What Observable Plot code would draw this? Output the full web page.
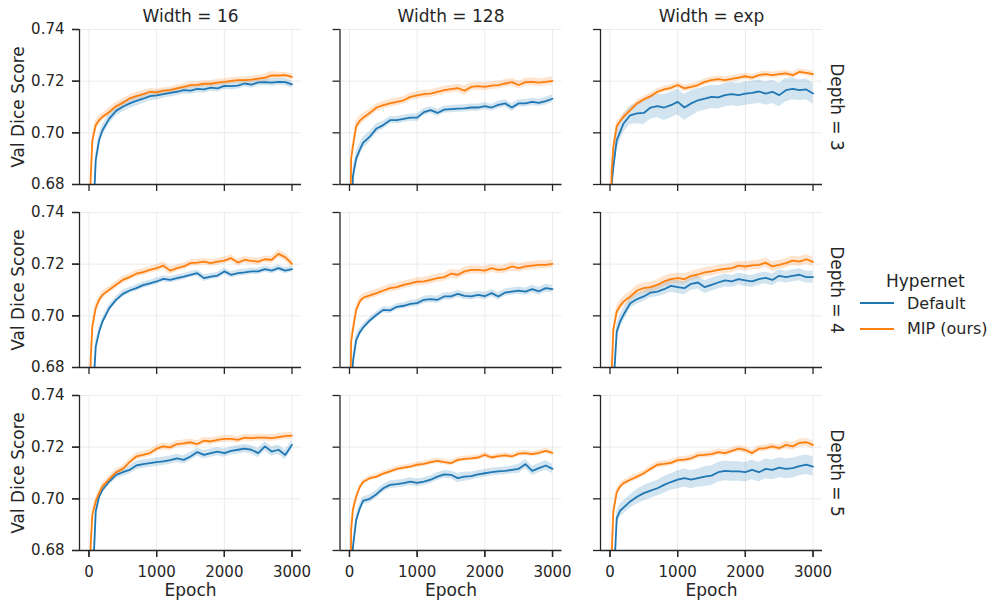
<!DOCTYPE html>
<html><head><meta charset="utf-8">
<script src="https://cdn.jsdelivr.net/npm/d3@7"></script>
<script src="https://cdn.jsdelivr.net/npm/@observablehq/plot@0.6"></script>
<style>
body{margin:0;background:#fff;font-family:"DejaVu Sans",sans-serif;}
#wrap{position:relative;width:992px;height:600px;overflow:hidden;}
.lg{position:absolute;color:#262626;white-space:nowrap;font-family:"DejaVu Sans",sans-serif;}
</style></head><body>
<div id="wrap"><div id="chart"></div>
<div class="lg" style="left:886px;top:270px;font-size:17px;line-height:22px;">Hypernet</div>
<div class="lg" style="left:860px;top:302px;width:34px;height:2px;background:#1f77b4;"></div>
<div class="lg" style="left:907px;top:293px;font-size:16px;line-height:22px;">Default</div>
<div class="lg" style="left:860px;top:328px;width:34px;height:2px;background:#ff7f0e;"></div>
<div class="lg" style="left:907px;top:318px;font-size:16px;line-height:22px;">MIP (ours)</div>
</div>
<script>
// ---- data ----
const epochs = [0,25,50,100,150,200,
  300,400,500,600,700,800,900,1000,
  1100,1200,1300,1400,1500,1600,1700,1800,1900,2000,
  2100,2200,2300,2400,2500,2600,2700,2800,2900,3000];
const widths = ["16","128","exp"];
const depths = [3,4,5];
const hypernets = ["Default","MIP (ours)"];
const colors = ["#1f77b4","#ff7f0e"];
const xTicks = [0,1000,2000,3000];
const yTicks = [0.68,0.70,0.72,0.74];

// Width 16, Depth 3
const mip16d3 = [0.620,0.682,0.697,0.7030,0.7049,0.7062,
  0.7081,0.7103,0.7116,0.7133,0.7142,0.7150,0.7159,0.7157,
  0.7163,0.7165,0.7172,0.7178,0.7185,0.7186,0.7190,0.7190,0.7194,0.7197,
  0.7201,0.7204,0.7204,0.7206,0.7210,0.7214,0.7222,0.7222,0.7223,0.7217];
const def16d3 = [0.600,0.630,0.660,0.6894,0.6972,0.7010,
  0.7055,0.7085,0.7101,0.7114,0.7124,0.7132,0.7142,0.7145,
  0.7150,0.7155,0.7159,0.7165,0.7163,0.7170,0.7168,0.7175,0.7172,0.7182,
  0.7181,0.7183,0.7191,0.7187,0.7195,0.7196,0.7194,0.7197,0.7196,0.7188];
const mipCi16d3 = [3,3,2.5,2,1.8,1.5, 1.5,1.5,1.5,1.3,1.5,1.5,1.3,1.3, 1.2,1.2,1.3,1.2,1.2,1.2,1.2,1.2,1.3,1.2, 1.2,1.2,1.2,1.3,1.2,1.5,1.5,1.3,1.2,1.2];
const defCi16d3 = [3,3,3,2.5,2.2,2, 2,2,2,2,2,1.8,1.8,1.8, 1.6,1.6,1.5,1.5,1.5,1.5,1.5,1.4,1.5,1.4, 1.5,1.4,1.4,1.4,1.4,1.4,1.4,1.4,1.4,1.4];

// Width 128, Depth 3
const mip128d3 = [0.640,0.690,0.6946,0.7026,0.7046,0.7058,
  0.7077,0.7098,0.7107,0.7114,0.7120,0.7126,0.7139,0.7145,
  0.7150,0.7152,0.7159,0.7165,0.7169,0.7173,0.7163,0.7178,0.7181,0.7178,
  0.7183,0.7185,0.7191,0.7196,0.7185,0.7196,0.7197,0.7194,0.7197,0.7201];
const def128d3 = [0.620,0.655,0.683,0.6901,0.6933,0.6961,
  0.6985,0.7017,0.7030,0.7049,0.7049,0.7054,0.7059,0.7059,
  0.7080,0.7088,0.7077,0.7090,0.7092,0.7094,0.7095,0.7098,0.7098,0.7103,
  0.7098,0.7108,0.7114,0.7098,0.7114,0.7114,0.7120,0.7116,0.7123,0.7132];
const mipCi128d3 = [3,3,2.5,2,2,1.8, 1.5,1.5,1.5,1.5,1.5,1.5,1.5,1.5, 1.5,1.5,1.5,1.5,1.5,1.5,1.8,1.5,1.5,1.5, 1.5,1.5,1.5,1.5,1.5,1.5,1.5,1.5,1.5,1.5];
const defCi128d3 = [3,3,3,2.5,2.5,2.2, 2,1.8,1.5,1.4,1.4,1.4,1.4,1.5, 1.4,1.3,1.4,1.3,1.4,1.4,1.4,1.4,1.4,1.4, 1.3,1.4,1.4,1.5,1.4,1.4,1.4,1.4,1.5,1.5];

// Width exp, Depth 3
const mipExpd3 = [0.660,0.685,0.6946,0.7026,0.7046,0.7062,
  0.7088,0.7114,0.7130,0.7142,0.7159,0.7168,0.7174,0.7185,
  0.7172,0.7178,0.7185,0.7197,0.7204,0.7208,0.7204,0.7209,0.7214,0.7219,
  0.7214,0.7223,0.7227,0.7223,0.7227,0.7230,0.7223,0.7236,0.7232,0.7227];
const defExpd3 = [0.620,0.680,0.6868,0.6972,0.7004,0.7036,
  0.7068,0.7075,0.7077,0.7098,0.7103,0.7098,0.7107,0.7120,
  0.7098,0.7114,0.7126,0.7132,0.7139,0.7137,0.7146,0.7150,0.7146,0.7152,
  0.7155,0.7160,0.7152,0.7159,0.7146,0.7165,0.7170,0.7165,0.7168,0.7152];
const mipCiExpd3 = [3,3,2,1.5,1.3,1.3, 1.2,1.2,1.2,1.2,1.2,1.2,1.2,1.2, 1.2,1.2,1.2,1.2,1.2,1.2,1.2,1.2,1.2,1.2, 1.2,1.2,1.2,1.2,1.2,1.2,1.2,1.2,1.2,1.2];
const defCiExpd3 = [4,4,4,3.5,3.5,3.5, 3.5,4,4.5,4.5,4.5,5,5,5, 5,5,4.5,4.5,4.5,4.5,4.5,4.5,4.5,4.5, 4.5,4.5,4.5,4.5,4.5,4.5,4.2,4,4,4];

// Width 16, Depth 4
const mip16d4 = [0.620,0.683,0.6959,0.7030,0.7062,0.7081,
  0.7101,0.7120,0.7139,0.7150,0.7163,0.7169,0.7178,0.7185,
  0.7194,0.7175,0.7185,0.7191,0.7204,0.7206,0.7210,0.7204,0.7210,0.7214,
  0.7223,0.7206,0.7217,0.7213,0.7210,0.7219,0.7217,0.7240,0.7227,0.7201];
const def16d4 = [0.600,0.630,0.665,0.6881,0.6939,0.6978,
  0.7030,0.7062,0.7085,0.7098,0.7107,0.7119,0.7126,0.7133,
  0.7143,0.7139,0.7146,0.7152,0.7159,0.7165,0.7146,0.7152,0.7156,0.7172,
  0.7159,0.7165,0.7168,0.7172,0.7172,0.7181,0.7175,0.7185,0.7175,0.7181];
const mipCi16d4 = [3,3,2.5,2,1.5,1.5, 1.3,1.3,1.3,1.3,1.3,1.3,1.3,1.3, 1.5,1.5,1.3,1.3,1.3,1.3,1.3,1.3,1.3,1.3, 1.3,1.3,1.3,1.3,1.3,1.3,1.3,1.5,1.5,1.5];
const defCi16d4 = [3,3,3,2,1.8,1.5, 1.3,1.3,1.3,1.2,1.2,1.2,1.2,1.2, 1.2,1.2,1.2,1.2,1.2,1.2,1.3,1.2,1.2,1.2, 1.2,1.2,1.2,1.2,1.2,1.2,1.2,1.2,1.2,1.2];

// Width 128, Depth 4
const mip128d4 = [0.640,0.690,0.6946,0.7023,0.7055,0.7070,
  0.7079,0.7088,0.7098,0.7107,0.7111,0.7120,0.7126,0.7132,
  0.7133,0.7139,0.7146,0.7150,0.7163,0.7159,0.7172,0.7178,0.7178,0.7175,
  0.7185,0.7178,0.7181,0.7191,0.7185,0.7191,0.7194,0.7197,0.7197,0.7201];
const def128d4 = [0.620,0.655,0.682,0.6907,0.6935,0.6954,
  0.6982,0.7004,0.7023,0.7021,0.7035,0.7039,0.7046,0.7049,
  0.7062,0.7065,0.7062,0.7075,0.7075,0.7085,0.7077,0.7075,0.7081,0.7076,
  0.7088,0.7075,0.7090,0.7094,0.7098,0.7094,0.7103,0.7095,0.7107,0.7103];
const mipCi128d4 = [3,3,2.5,2,1.8,1.5, 1.5,1.5,1.5,1.5,1.5,1.5,1.5,1.5, 1.5,1.6,1.6,1.6,1.8,1.6,1.6,1.6,1.6,1.6, 1.6,1.6,1.6,1.8,1.6,1.6,1.6,1.6,1.6,1.6];
const defCi128d4 = [3,3,3,2,1.5,1.3, 1.2,1.2,1.2,1.2,1.2,1.2,1.3,1.3, 1.4,1.4,1.4,1.4,1.4,1.4,1.4,1.4,1.4,1.4, 1.4,1.4,1.4,1.4,1.4,1.4,1.5,1.5,1.5,1.5];

// Width exp, Depth 4
const mipExpd4 = [0.620,0.678,0.6946,0.7017,0.7039,0.7055,
  0.7075,0.7098,0.7107,0.7111,0.7120,0.7133,0.7142,0.7146,
  0.7142,0.7155,0.7160,0.7168,0.7172,0.7178,0.7182,0.7185,0.7194,0.7191,
  0.7195,0.7197,0.7206,0.7191,0.7197,0.7204,0.7214,0.7210,0.7219,0.7209];
const defExpd4 = [0.610,0.640,0.672,0.6939,0.6978,0.7004,
  0.7049,0.7065,0.7075,0.7090,0.7094,0.7103,0.7116,0.7111,
  0.7107,0.7124,0.7129,0.7111,0.7120,0.7129,0.7137,0.7133,0.7142,0.7137,
  0.7133,0.7142,0.7147,0.7139,0.7155,0.7150,0.7155,0.7159,0.7150,0.7150];
const mipCiExpd4 = [3,3,2.5,2,2,2, 2,2,2,2,2,2,2,2, 2,1.8,1.8,1.8,1.8,1.8,1.8,1.8,1.8,1.8, 1.8,1.8,1.8,1.8,1.8,1.8,1.8,1.8,1.8,1.8];
const defCiExpd4 = [3.5,3.5,3.5,3,2.5,2.5, 2,2,2,2,2,2.2,2.5,2.5, 2.5,2.5,2.5,2.5,2.5,2.5,2.5,2.3,2.3,2.3, 2.3,2.3,2.3,2.3,2.3,2.3,2.3,2.3,2.3,2.3];

// Width 16, Depth 5
const mip16d5 = [0.620,0.682,0.6938,0.6990,0.7022,0.7048,
  0.7076,0.7102,0.7116,0.7142,0.7164,0.7170,0.7177,0.7194,
  0.7203,0.7199,0.7212,0.7215,0.7219,0.7212,0.7225,0.7222,0.7228,0.7232,
  0.7232,0.7228,0.7237,0.7235,0.7237,0.7237,0.7235,0.7239,0.7243,0.7245];
const def16d5 = [0.600,0.630,0.665,0.6951,0.7009,0.7035,
  0.7067,0.7093,0.7103,0.7112,0.7129,0.7134,0.7138,0.7142,
  0.7145,0.7150,0.7157,0.7151,0.7164,0.7181,0.7170,0.7177,0.7183,0.7177,
  0.7186,0.7190,0.7194,0.7190,0.7177,0.7203,0.7183,0.7190,0.7170,0.7209];
const mipCi16d5 = [3,3,2,1.5,1.3,1.3, 1.3,1.3,1.3,1.3,1.3,1.3,1.3,1.3, 1.3,1.3,1.3,1.3,1.3,1.3,1.3,1.3,1.3,1.3, 1.3,1.3,1.3,1.3,1.3,1.3,1.3,1.3,1.3,1.3];
const defCi16d5 = [3,3,3,2,1.5,1.3, 1.3,1.5,1.6,1.6,1.6,1.6,1.6,1.6, 1.6,1.6,1.6,1.6,1.6,1.6,1.6,1.6,1.6,1.6, 1.6,1.6,1.6,1.6,1.8,1.8,1.8,1.8,1.8,1.8];

// Width 128, Depth 5
const mip128d5 = [0.630,0.688,0.6957,0.7009,0.7044,0.7065,
  0.7080,0.7086,0.7098,0.7106,0.7116,0.7121,0.7125,0.7132,
  0.7135,0.7142,0.7147,0.7142,0.7138,0.7151,0.7155,0.7157,0.7160,0.7170,
  0.7160,0.7165,0.7168,0.7164,0.7175,0.7177,0.7173,0.7178,0.7186,0.7178];
const def128d5 = [0.620,0.655,0.681,0.6919,0.6961,0.6992,
  0.7000,0.7018,0.7041,0.7054,0.7057,0.7061,0.7067,0.7062,
  0.7067,0.7074,0.7086,0.7095,0.7093,0.7080,0.7086,0.7088,0.7095,0.7099,
  0.7103,0.7106,0.7108,0.7112,0.7116,0.7134,0.7108,0.7119,0.7129,0.7116];
const mipCi128d5 = [3,3,2,1.3,1,1, 1,1,1,1,1,1,1,1, 1,1,1,1,1,1,1,1,1,1, 1,1,1,1,1,1,1,1,1,1];
const defCi128d5 = [3,3,3,2,1.8,1.5, 1.5,1.5,1.5,1.5,1.5,1.5,1.5,1.5, 1.5,1.5,1.5,1.5,1.5,1.8,1.8,1.5,1.5,1.5, 1.5,1.5,1.5,1.5,1.8,1.8,1.8,1.8,1.8,1.8];

// Width exp, Depth 5
const mipExpd5 = [0.620,0.678,0.6951,0.7026,0.7048,0.7061,
  0.7074,0.7086,0.7099,0.7116,0.7132,0.7135,0.7139,0.7150,
  0.7152,0.7157,0.7168,0.7170,0.7173,0.7181,0.7177,0.7186,0.7194,0.7189,
  0.7177,0.7194,0.7196,0.7203,0.7196,0.7209,0.7203,0.7217,0.7219,0.7209];
const defExpd5 = [0.600,0.630,0.665,0.6925,0.6954,0.6966,
  0.6990,0.7008,0.7022,0.7032,0.7041,0.7054,0.7065,0.7074,
  0.7080,0.7074,0.7080,0.7086,0.7090,0.7103,0.7108,0.7106,0.7106,0.7103,
  0.7112,0.7103,0.7116,0.7112,0.7121,0.7116,0.7119,0.7127,0.7132,0.7125];
const mipCiExpd5 = [3,3,2,1.3,1.2,1.2, 1.2,1.2,1.2,1.2,1.2,1.2,1.2,1.2, 1.2,1.2,1.2,1.2,1.2,1.2,1.2,1.2,1.2,1.2, 1.2,1.2,1.2,1.2,1.2,1.5,1.5,1.5,1.5,1.5];
const defCiExpd5 = [3,3,3,2.5,2.5,2.5, 2.5,2.8,3,3,3,3.2,3.2,3.5, 3.5,3.5,3.5,3.8,3.8,3.8,3.8,3.8,3.8,3.8, 3.8,3.8,3.8,3.8,3.8,3.8,3.8,3.8,3.8,3.8];

// ---- assemble ----
const panels = [
  ["16",3,def16d3,defCi16d3,mip16d3,mipCi16d3],
  ["128",3,def128d3,defCi128d3,mip128d3,mipCi128d3],
  ["exp",3,defExpd3,defCiExpd3,mipExpd3,mipCiExpd3],
  ["16",4,def16d4,defCi16d4,mip16d4,mipCi16d4],
  ["128",4,def128d4,defCi128d4,mip128d4,mipCi128d4],
  ["exp",4,defExpd4,defCiExpd4,mipExpd4,mipCiExpd4],
  ["16",5,def16d5,defCi16d5,mip16d5,mipCi16d5],
  ["128",5,def128d5,defCi128d5,mip128d5,mipCi128d5],
  ["exp",5,defExpd5,defCiExpd5,mipExpd5,mipCiExpd5]
];
const rows = [];
for (const [w, d, dm, dc, mm, mc] of panels) {
  for (const [h, mean, ci] of [[hypernets[0], dm, dc], [hypernets[1], mm, mc]]) {
    epochs.forEach((e, i) => rows.push({width: w, depth: d, hyper: h, epoch: e,
      y: mean[i], lo: mean[i] - ci[i] / 1000, hi: mean[i] + ci[i] / 1000}));
  }
}

const ink = "#262626";
const chart = Plot.plot({
  width: 992, height: 600,
  marginLeft: 79, marginRight: 170, marginTop: 29, marginBottom: 50,
  style: {fontFamily: "DejaVu Sans, sans-serif", fontSize: "15px", color: ink, background: "white"},
  fx: {domain: widths, paddingInner: 0.1478, paddingOuter: 0, axis: null, round: false},
  fy: {domain: depths, paddingInner: 0.153, paddingOuter: 0, axis: null, round: false},
  x: {domain: [-140, 3140], axis: null},
  y: {domain: [0.68, 0.74], axis: null},
  color: {domain: hypernets, range: colors},
  marks: [
    Plot.gridX({ticks: xTicks, stroke: "#ebebeb", strokeOpacity: 1, strokeWidth: 1, facetAnchor: null}),
    Plot.gridY({ticks: yTicks, stroke: "#ebebeb", strokeOpacity: 1, strokeWidth: 1, facetAnchor: null}),
    Plot.areaY(rows, {x: "epoch", y1: "lo", y2: "hi", fill: "hyper", z: "hyper", fillOpacity: 0.2, fx: "width", fy: "depth", clip: true}),
    Plot.lineY(rows, {x: "epoch", y: "y", stroke: "hyper", z: "hyper", strokeWidth: 1.8, fx: "width", fy: "depth", clip: true}),
    Plot.ruleX([-140], {stroke: ink, strokeWidth: 1.3}),
    Plot.ruleY([0.68], {stroke: ink, strokeWidth: 1.3}),
    Plot.axisX({ticks: xTicks, tickSize: 7, tickFormat: () => "", facetAnchor: null, label: null, stroke: ink, strokeWidth: 1.3}),
    Plot.axisX({ticks: xTicks, tickSize: 7, tickPadding: 9, tickFormat: d3.format("d"), facetAnchor: "bottom", label: null, stroke: ink, strokeWidth: 1.3, fontSize: 15}),
    Plot.axisY({ticks: yTicks, tickSize: 7, tickFormat: () => "", facetAnchor: null, label: null, stroke: ink, strokeWidth: 1.3}),
    Plot.axisY({ticks: yTicks, tickSize: 7, tickPadding: 8, tickFormat: d3.format(".2f"), facetAnchor: "left", label: null, stroke: ink, strokeWidth: 1.3, fontSize: 15}),
    Plot.text(widths, {fx: d => d, fy: () => 3, text: d => `Width = ${d}`, frameAnchor: "top", lineAnchor: "middle", textAnchor: "middle", dy: -12.5, fontSize: 17, fill: ink}),
    Plot.text(widths, {fx: d => d, fy: () => 5, text: () => "Epoch", frameAnchor: "bottom", lineAnchor: "middle", textAnchor: "middle", dy: 40, fontSize: 17, fill: ink}),
    Plot.text(depths, {fx: () => "16", fy: d => d, text: () => "Val Dice Score", frameAnchor: "left", lineAnchor: "middle", textAnchor: "middle", rotate: -90, dx: -61, fontSize: 17, fill: ink}),
    Plot.text(depths, {fx: () => "exp", fy: d => d, text: d => `Depth = ${d}`, frameAnchor: "right", lineAnchor: "middle", textAnchor: "middle", rotate: 90, dx: 14, fontSize: 17, fill: ink})
  ]
});
document.getElementById("chart").appendChild(chart);
</script>
</body></html>
